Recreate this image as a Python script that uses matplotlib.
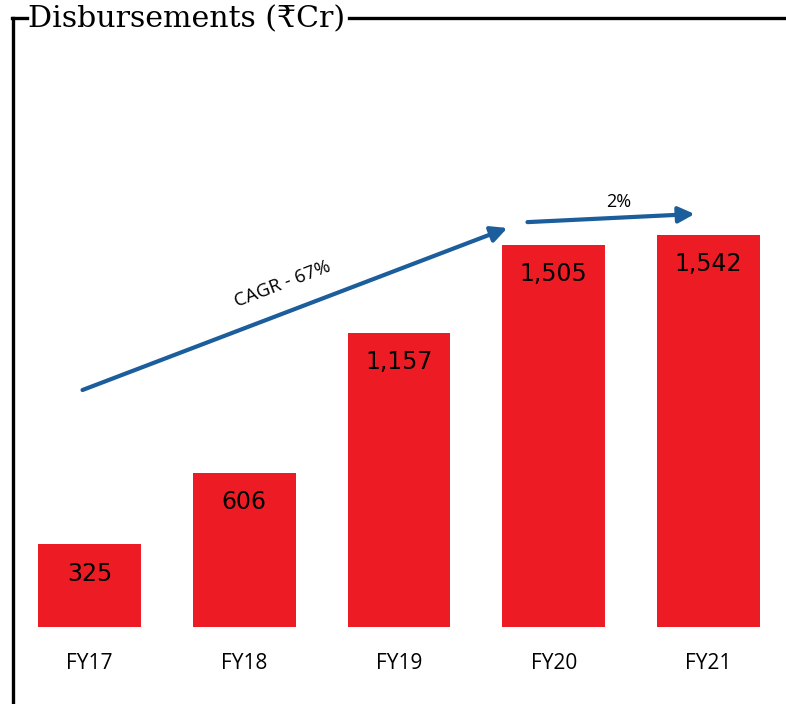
import matplotlib.pyplot as plt
from matplotlib.lines import Line2D

# data
years = ['FY17', 'FY18', 'FY19', 'FY20', 'FY21']
disbursements = [325, 606, 1157, 1505, 1542]
value_labels = ['325', '606', '1,157', '1,505', '1,542']

# growth arrows: (x0, y0) -> (x1, y1) in data units, with their labels
cagr_arrow = [(-0.045, 933), (2.70, 1571)]
yoy_arrow = [(2.83, 1594), (3.91, 1626)]
cagr_text = 'CAGR - 67%'
yoy_text = '2%'

bar_red = '#ED1C24'
arrow_blue = '#1B5E9B'
label_font = ['Open Sans', 'DejaVu Sans']

W, H = 786, 704
fig = plt.figure(figsize=(W / 100, H / 100), dpi=100)
ax = fig.add_axes([38 / W, 1 - 627 / H, 722 / W, 508 / H])

x = range(len(years))
ax.bar(x, disbursements, width=0.665, color=bar_red)
ax.set_xlim(-0.3325, 4.3325)
ax.set_ylim(0, 2000)

for i, v in enumerate(disbursements):
    ax.annotate(value_labels[i], (i, v), xytext=(0, -21), textcoords='offset points',
                ha='center', va='center', fontsize=17, family='DejaVu Sans', color='black')

ax.set_xticks(list(x))
ax.set_xticklabels(years, fontsize=15, family=label_font)
ax.tick_params(axis='x', length=0, pad=19)
ax.set_yticks([])
for s in ax.spines.values():
    s.set_visible(False)

arrow_props = dict(arrowstyle='-|>', lw=3, mutation_scale=24, color=arrow_blue,
                   shrinkA=0, shrinkB=0)
ax.annotate('', xy=cagr_arrow[1], xytext=cagr_arrow[0], arrowprops=arrow_props,
            annotation_clip=False)
ax.annotate('', xy=yoy_arrow[1], xytext=yoy_arrow[0], arrowprops=arrow_props,
            annotation_clip=False)
ax.text(1.25, 1350, cagr_text, rotation=21, ha='center', va='center',
        fontsize=13.5, family=label_font)
ax.text(3.42, 1672, yoy_text, ha='center', va='center', fontsize=13, family=label_font)

# frame around the chart with the title sitting on the top line
lw = 2.4
ty = 1 - 18 / H
fig.add_artist(Line2D([12.5 / W, 12.5 / W], [0, ty], color='black', lw=lw))
fig.add_artist(Line2D([11.5 / W, 27 / W], [ty, ty], color='black', lw=lw))
fig.add_artist(Line2D([349 / W, 1], [ty, ty], color='black', lw=lw))
fig.text(28 / W, 1 - 19 / H, 'Disbursements (₹Cr)', ha='left', va='center',
         fontsize=21.6, family=['DejaVu Serif', 'DejaVu Sans'])

fig.savefig('out.png', dpi=100)
